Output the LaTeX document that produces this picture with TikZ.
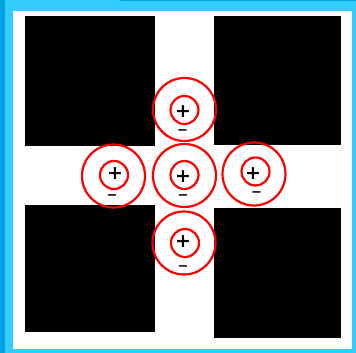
\documentclass[tikz,border=0pt]{standalone}
\usepackage{fontspec}
\newfontfamily\chg{DejaVu Sans}
\definecolor{darkblue}{RGB}{0,162,226}
\definecolor{lightblue}{RGB}{51,204,255}
\begin{document}
\begin{tikzpicture}[x=1pt,y=-1pt,
  outerring/.style={circle,draw=red,line width=2.2pt,minimum size=63pt,inner sep=0pt},
  innerring/.style={circle,draw=red,line width=2.2pt,minimum size=28pt,inner sep=0pt},
  plussign/.style={inner sep=0pt,font=\chg\bfseries\fontsize{19}{19}\selectfont},
  minussign/.style={inner sep=0pt,font=\chg\bfseries\fontsize{13}{13}\selectfont},
  block/.style={fill=black}]
\useasboundingbox (0,0) rectangle (356,353);
\fill[darkblue] (0,0) rectangle (356,353);
\fill[lightblue] (5,1.5) rectangle (356,353);
\fill[lightblue] (5,0) rectangle (120,1.5);
\fill[white] (13,11) rectangle (352,349);
\fill[block] (25,16) rectangle (155,146);
\fill[block] (214,16) rectangle (341,145);
\fill[block] (25,205) rectangle (155,332);
\fill[block] (214,208) rectangle (341,338);
% top
\node[outerring] (to) at (184.5,109.5) {};
\node[innerring] (ti) at (184.5,110) {};
\node[plussign] (tp) at (183,112) {+};
\node[minussign] (tm) at (182.5,132) {−};
% middle
\node[outerring] (mo) at (184.5,175.5) {};
\node[innerring] (mi) at (184.5,175) {};
\node[plussign] (mp) at (183,177) {+};
\node[minussign] (mm) at (183,197) {−};
% left
\node[outerring] (lo) at (113.5,176) {};
\node[innerring] (li) at (114,175) {};
\node[plussign] (lp) at (115,174) {+};
\node[minussign] (lm) at (112,197) {−};
% right
\node[outerring] (ro) at (254,174) {};
\node[innerring] (ri) at (255.5,171.5) {};
\node[plussign] (rp) at (253,174) {+};
\node[minussign] (rm) at (256.5,194) {−};
% bottom
\node[outerring] (bo) at (184,243) {};
\node[innerring] (bi) at (185,243) {};
\node[plussign] (bp) at (183,242) {+};
\node[minussign] (bm) at (183,268) {−};
\end{tikzpicture}
\end{document}
